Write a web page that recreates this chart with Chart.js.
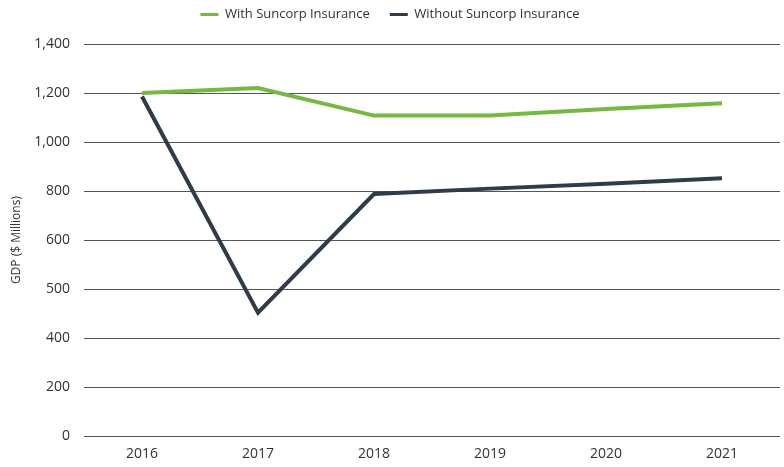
<!DOCTYPE html>
<html>
<head>
<meta charset="utf-8">
<script src="https://cdn.jsdelivr.net/npm/chart.js@4"></script>
<style>
  html, body { margin: 0; padding: 0; background: #fff; }
  #wrap { width: 784px; height: 467px; }
</style>
</head>
<body>
<div id="wrap"><canvas id="chartContainer"></canvas></div>
<script>
const years = ["2016", "2017", "2018", "2019", "2020", "2021"];
// values in axis units (gridlines every 200)
const withSuncorp = [1400, 1420, 1308, 1308, 1335, 1358];
const withoutSuncorp = [1386, 504, 988, 1010, 1030, 1052];
// labels printed on the gridlines, bottom to top
const tickLabels = ["0", "200", "400", "500", "600", "800", "1,000", "1,200", "1,400"];

// extra room under the legend
const legendGap = {
    id: "legendGap",
    beforeInit(chart) {
        const fit = chart.legend.fit;
        chart.legend.fit = function () {
            fit.bind(chart.legend)();
            this.height += 13;
        };
    },
};

const ctx = document.getElementById("chartContainer");
const chart = new Chart(ctx, {
    type: "line",
    data: {
        labels: years,
        datasets: [
            {
                label: "With Suncorp Insurance",
                data: withSuncorp,
                borderColor: "#76b843",
                backgroundColor: "#76b843",
                borderWidth: 4,
                pointRadius: 0,
                tension: 0,
            },
            {
                label: "Without Suncorp Insurance",
                data: withoutSuncorp,
                borderColor: "#2f3c47",
                backgroundColor: "#2f3c47",
                borderWidth: 4,
                pointRadius: 0,
                tension: 0,
            },
        ],
    },
    plugins: [legendGap],
    options: {
        responsive: true,
        maintainAspectRatio: false,
        animation: false,
        layout: { padding: { top: -12, right: 4, bottom: -4 } },
        plugins: {
            legend: {
                position: "top",
                labels: {
                    boxWidth: 18,
                    boxHeight: 3,
                    padding: 20,
                    color: "#333",
                    font: { family: "Open Sans", size: 13 },
                    generateLabels: (c) =>
                        Chart.defaults.plugins.legend.labels
                            .generateLabels(c)
                            .map((item) => ({ ...item, lineWidth: 0 })),
                },
            },
            tooltip: { enabled: false },
        },
        scales: {
            x: {
                offset: true,
                grid: { display: false, drawTicks: false },
                border: { display: false },
                ticks: {
                    color: "#333",
                    padding: 9,
                    font: { family: "Open Sans", size: 14 },
                },
            },
            y: {
                min: 0,
                max: 1600,
                afterFit: (scale) => { scale.width = 84; },
                grid: { color: "#555", drawTicks: false },
                border: { display: false },
                ticks: {
                    stepSize: 200,
                    padding: 14,
                    color: "#333",
                    font: { family: "Open Sans", size: 14 },
                    callback: (value) => tickLabels[Math.round(value / 200)],
                },
                title: {
                    display: true,
                    text: "GDP ($ Millions)",
                    color: "#333",
                    font: { family: "Open Sans", size: 12 },
                    padding: { top: 9, bottom: 0 },
                },
            },
        },
    },
});
</script>
</body>
</html>
